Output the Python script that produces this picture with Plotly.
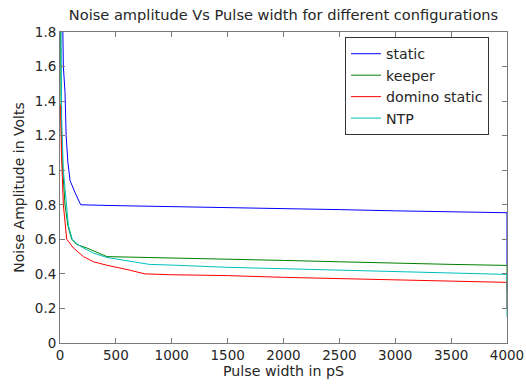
import plotly.graph_objects as go

# ---- data ----
static_x = [10, 25, 30, 45, 55, 70, 90, 135, 185, 500, 1000, 1500, 2000, 2500, 3000, 3500, 4000, 4000]
static_y = [2.5, 1.8, 1.6, 1.45, 1.2, 1.05, 0.94, 0.87, 0.80, 0.795, 0.79, 0.785, 0.78, 0.772, 0.765, 0.76, 0.754, 0.45]

keeper_x = [0, 3, 10, 20, 30, 45, 70, 105, 150, 240, 420, 1000, 1500, 2000, 2500, 3000, 3500, 4000, 4000]
keeper_y = [2.5, 1.8, 1.3, 1.05, 0.92, 0.80, 0.68, 0.60, 0.57, 0.55, 0.50, 0.493, 0.485, 0.478, 0.47, 0.461, 0.455, 0.449, 0.30]

domino_x = [0, 5, 13, 20, 30, 45, 60, 120, 210, 300, 420, 600, 760, 1000, 1500, 2000, 2500, 3000, 3500, 4000, 4000]
domino_y = [1.38, 1.37, 1.10, 0.95, 0.80, 0.70, 0.60, 0.55, 0.50, 0.47, 0.45, 0.425, 0.40, 0.395, 0.39, 0.38, 0.373, 0.365, 0.357, 0.351, 0.20]

ntp_x = [0, 5, 15, 30, 45, 55, 75, 110, 160, 210, 300, 420, 500, 700, 800, 1000, 1500, 2000, 2500, 3000, 3500, 4000, 4000]
ntp_y = [2.5, 1.8, 1.3, 1.0, 0.90, 0.80, 0.68, 0.60, 0.57, 0.55, 0.52, 0.495, 0.486, 0.467, 0.455, 0.451, 0.438, 0.43, 0.421, 0.413, 0.405, 0.397, 0.152]

series_names = ["static", "keeper", "domino static", "NTP"]
series_colors = ["#0000FF", "#008000", "#FF0000", "#00BFBF"]

x_ticks = [0, 500, 1000, 1500, 2000, 2500, 3000, 3500, 4000]
y_ticks = [0, 0.2, 0.4, 0.6, 0.8, 1.0, 1.2, 1.4, 1.6, 1.8]
y_tick_text = ["0", "0.2", "0.4", "0.6", "0.8", "1", "1.2", "1.4", "1.6", "1.8"]

title_text = "Noise amplitude Vs Pulse width for different configurations"
x_label = "Pulse width in pS"
y_label = "Noise Amplitude in Volts"

FONT = "DejaVu Sans"
TXT = "#262626"
AX = "#7a7a7a"

fig = go.Figure()
for xs, ys, name, col in zip([static_x, keeper_x, domino_x, ntp_x],
                             [static_y, keeper_y, domino_y, ntp_y],
                             series_names, series_colors):
    fig.add_trace(go.Scatter(x=xs, y=ys, mode="lines", name=name,
                             line=dict(color=col, width=1)))

fig.update_layout(
    width=526, height=387,
    margin=dict(l=60, r=19, t=32, b=44, autoexpand=False),
    paper_bgcolor="white", plot_bgcolor="white",
    font=dict(family=FONT, size=13, color=TXT),
    title=dict(text=title_text, x=0.5, xref="paper", y=1 - 15 / 387, yref="container",
               xanchor="center", yanchor="middle", font=dict(size=14.6, color=TXT)),
    showlegend=True,
    legend=dict(x=0.6376, y=0.984, xanchor="left", yanchor="top",
                bgcolor="white", bordercolor="#333333", borderwidth=1,
                font=dict(size=14.2, color=TXT), tracegroupgap=0,
                itemwidth=30),
)

fig.update_xaxes(range=[0, 4000], tickvals=x_ticks, ticks="inside", ticklen=5,
                 tickcolor=AX, showline=True, linecolor=AX, linewidth=1, mirror="ticks",
                 showgrid=False, zeroline=False, tickfont=dict(size=13.5, color=TXT),
                 automargin=False,
                 title=dict(text=x_label, standoff=2, font=dict(size=14.2, color=TXT)))
fig.update_yaxes(range=[0, 1.8], tickvals=y_ticks, ticktext=y_tick_text, ticks="inside", ticklen=5,
                 tickcolor=AX, showline=True, linecolor=AX, linewidth=1, mirror="ticks",
                 showgrid=False, zeroline=False, tickfont=dict(size=13.5, color=TXT),
                 automargin=False,
                 title=dict(text=y_label, standoff=6, font=dict(size=14, color=TXT)))

fig.write_html("out.html")
